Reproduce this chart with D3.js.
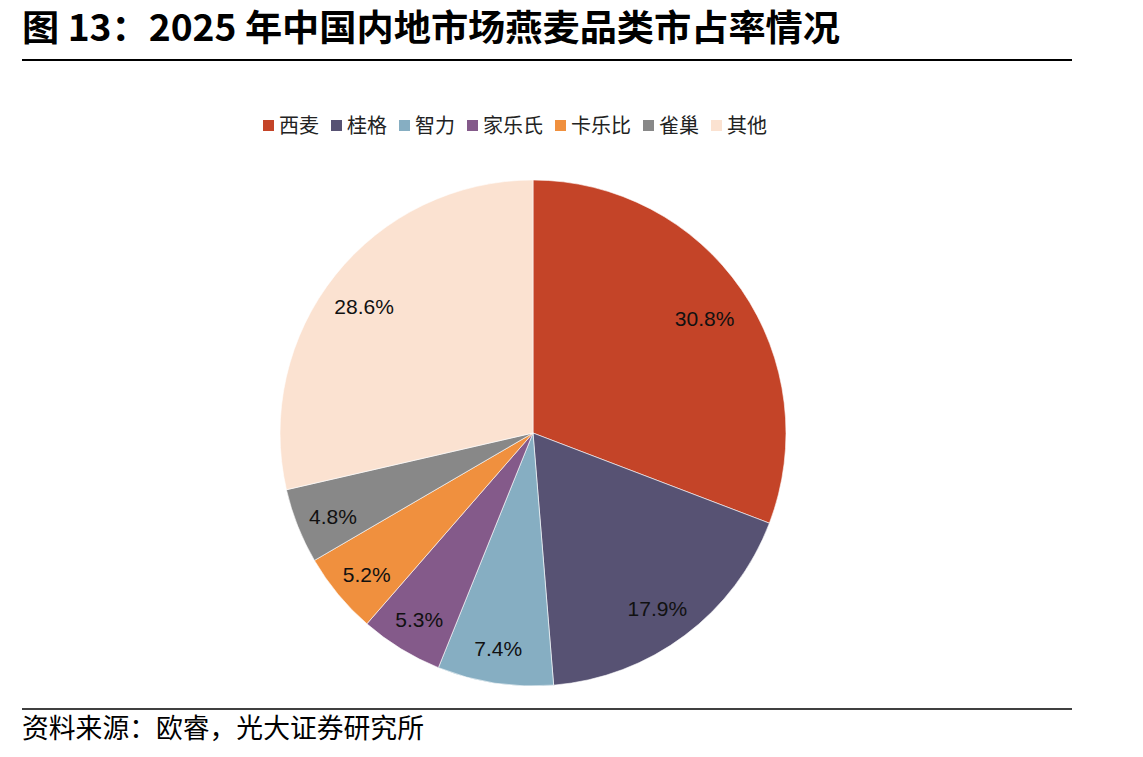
<!DOCTYPE html>
<html><head><meta charset="utf-8">
<script src="https://cdn.jsdelivr.net/npm/d3@7"></script>
<style>body{margin:0;background:#fff}svg{display:block}</style>
</head><body>
<svg id="c" width="1143" height="757"></svg>
<script>
const categories = ["西麦","桂格","智力","家乐氏","卡乐比","雀巢","其他"];
const shares = [30.8,17.9,7.4,5.3,5.2,4.8,28.6];
const colors = ["#C44428","#575273","#86AEC2","#845A8A","#F0903E","#888888","#FBE2D1"];
const titleText = "图 13：2025 年中国内地市场燕麦品类市占率情况";
const sourceText = "资料来源：欧睿，光大证券研究所";

const svg = d3.select("#c");
const cjk = "'Noto Sans CJK SC','Noto Sans',sans-serif";

const title = svg.append("text").attr("x",22).attr("y",41).attr("font-family",cjk).attr("font-weight","bold")
  .attr("font-size",36).attr("fill","#000").text(titleText);
title.attr("textLength", 818).attr("lengthAdjust","spacingAndGlyphs");
svg.append("line").attr("x1",22).attr("x2",1072).attr("y1",60).attr("y2",60).attr("stroke","#000").attr("stroke-width",2);
svg.append("line").attr("x1",22).attr("x2",1072).attr("y1",709).attr("y2",709).attr("stroke","#000").attr("stroke-width",1.5);
svg.append("text").attr("x",22).attr("y",738).attr("font-family",cjk).attr("font-size",26.8).attr("fill","#000").text(sourceText);

// legend
const color = d3.scaleOrdinal().domain(categories).range(colors);
const leg = svg.append("g");
let lx = 263;
categories.forEach(c=>{
  const g = leg.append("g").attr("transform",`translate(${lx},0)`);
  g.append("rect").attr("x",0).attr("y",120).attr("width",11).attr("height",11).attr("fill",color(c));
  const t = g.append("text").attr("x",16).attr("y",133).attr("font-family",cjk).attr("font-size",20).attr("fill","#222").text(c);
  const w = t.node().getComputedTextLength();
  lx += 16 + w + 12;
});

// pie
const cx = 533, cy = 433, r = 253;
const pie = d3.pie().sort(null).value(d=>d.v);
const data = categories.map((c,i)=>({c, v: shares[i]}));
const arcs = pie(data);
const arc = d3.arc().innerRadius(0).outerRadius(r);
const labelArc = d3.arc().innerRadius(212).outerRadius(212);
const g = svg.append("g").attr("transform",`translate(${cx},${cy})`);
g.selectAll("path").data(arcs).join("path").attr("d",arc).attr("fill",d=>color(d.data.c))
  .attr("stroke","#fff").attr("stroke-width",0.6);
g.selectAll("text").data(arcs).join("text")
  .attr("transform",d=>{const [x,y]=labelArc.centroid(d); return `translate(${x-3},${y+5})`;})
  .attr("text-anchor","middle").attr("dy","0.4em")
  .attr("font-family","'Liberation Sans',Arial,sans-serif").attr("font-size",21).attr("fill","#111")
  .text(d=>d.data.v.toFixed(1)+"%");
</script>
</body></html>
